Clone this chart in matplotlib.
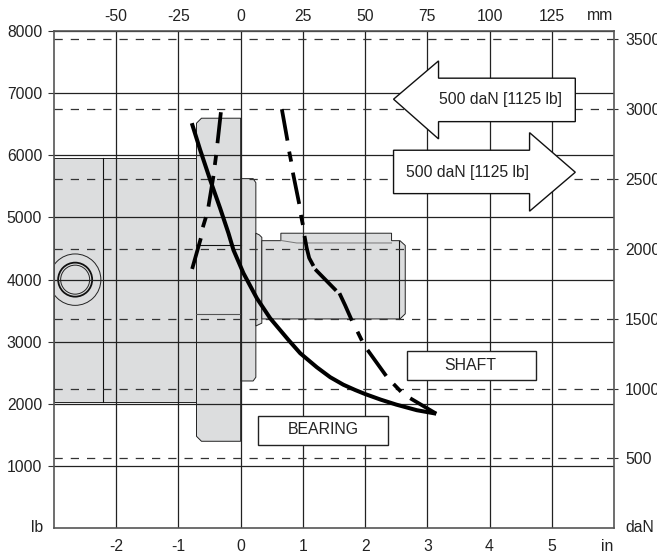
import matplotlib
matplotlib.use("Agg")
import matplotlib.pyplot as plt
from matplotlib.patches import Polygon, Rectangle, Ellipse
import numpy as np

plt.rcParams['font.family'] = ['Liberation Sans', 'DejaVu Sans']
plt.rcParams['axes.unicode_minus'] = False

# scales: 25 mm is drawn as 1 in, 1 daN = 2.248 lb
LB_PER_DAN = 2.248
MM_PER_IN = 25
nan = np.nan

lb_ticks = [1000, 2000, 3000, 4000, 5000, 6000, 7000, 8000]
in_ticks = [-2, -1, 0, 1, 2, 3, 4, 5]
mm_ticks = [-50, -25, 0, 25, 50, 75, 100, 125]
dan_ticks = np.array([500, 1000, 1500, 2000, 2500, 3000, 3500])

# load curves, x in inches and y in lb
bearing_x = [-0.785, -0.651, -0.490, -0.330, -0.196, -0.116, 0.045, 0.260, 0.474, 0.768,
             0.957, 1.225, 1.44, 1.65, 1.84, 2.0, 2.25, 2.5, 2.83, 3.143]
bearing_y = [6517, 6087, 5604, 5149, 4747, 4478, 4103, 3701, 3379, 3030,
             2816, 2590, 2430, 2310, 2225, 2160, 2070, 1990, 1900, 1844]

# the dashed curves have a nan at each gap, the dashes are not quite regular
shaft_x = [0.662, 0.752, nan, 0.780, 0.812, nan, 0.839, 0.941, nan, 0.968, 1.000, nan,
           1.026, 1.061, 1.101, 1.170, nan, 1.198, 1.535, nan, 1.588, 1.680, 1.788, nan,
           1.878, 1.949, nan, 2.039, 2.339, nan, 2.457, 2.576, nan, 2.725, 3.143]
shaft_y = [6742, 6237, nan, 6060, 5899, nan, 5722, 5218, nan, 5041, 4880, nan,
           4703, 4510, 4349, 4220, nan, 4167, 3823, nan, 3781, 3585, 3340, nan,
           3163, 3018, nan, 2869, 2451, nan, 2322, 2198, nan, 2092, 1844]
shaft2_x = [-0.318, -0.373, nan, -0.394, -0.415, nan, -0.437, -0.518, nan, -0.559, -0.608, nan, -0.640, -0.780]
shaft2_y = [6693, 6195, nan, 6006, 5845, nan, 5669, 5175, nan, 5004, 4843, nan, 4666, 4172]

# motor outline
body_x = [-3.0, -0.71, -0.71, -3.0]
body_y = [2037, 2037, 5953, 5953]
flange_x = [-0.71, -0.63, 0.0, 0.0, -0.63, -0.71]
flange_y = [1480, 1400, 1400, 6597, 6597, 6517]
cover_x = [0.0, 0.20, 0.244, 0.244, 0.20, 0.0]
cover_y = [2370, 2370, 2430, 5560, 5625, 5625]
collar_x = [0.244, 0.34, 0.34, 0.30, 0.244]
collar_y = [3255, 3300, 4680, 4720, 4747]
housing_x = [0.34, 2.56, 2.645, 2.645, 2.56, 2.425, 2.425, 0.646, 0.646, 0.34]
housing_y = [3368, 3368, 3450, 4550, 4627, 4627, 4747, 4747, 4627, 4627]

arrow_left_x = [2.457, 3.18, 3.18, 5.378, 5.378, 3.18, 3.18]
arrow_left_y = [6903, 7519, 7241, 7241, 6542, 6542, 6264]
arrow_right_x = [2.457, 4.643, 4.643, 5.378, 4.643, 4.643, 2.457]
arrow_right_y = [6082, 6082, 6365, 5728, 5101, 5384, 5384]

fig = plt.figure(figsize=(6.57, 5.56), dpi=100)
ax = fig.add_axes([54 / 657, 27.7 / 556, 560 / 657, 497.3 / 556])
ax.set_xlim(-3, 6)
ax.set_ylim(0, 8000)

for px, py in [(body_x, body_y), (flange_x, flange_y), (cover_x, cover_y), (collar_x, collar_y), (housing_x, housing_y)]:
    ax.add_patch(Polygon(np.column_stack([px, py]), fc="#dcddde", ec="#222222", lw=0.7, zorder=1))

# inner lines of the motor
ax.plot([-2.205, -2.205], [2037, 5953], color="#111111", lw=0.8, zorder=1.2)
ax.plot([-0.71, 0], [4553, 4553], color="#111111", lw=0.8, zorder=1.2)
ax.plot([-0.71, 0], [3443, 3443], color="#555555", lw=0.8, zorder=1.2)
ax.plot([2.537, 2.537], [3368, 4627], color="#111111", lw=0.8, zorder=1.2)
ax.plot([0.646, 0.9, 2.425], [4630, 4590, 4590], color="#777777", lw=0.7, zorder=1.2)

# conduit circle, the big one is clipped by the frame
ax.add_patch(Ellipse((-2.66, 4000), 2 * 25.7 / 62.2, 2 * 25.7 / 0.06215, fc="none", ec="#222222", lw=0.7, zorder=1.3))
ax.add_patch(Ellipse((-2.66, 4000), 2 * 17 / 62.2, 2 * 17 / 0.06215, fc="none", ec="#111111", lw=1.3, zorder=1.3))
ax.add_patch(Ellipse((-2.66, 4000), 2 * 14.5 / 62.2, 2 * 14.5 / 0.06215, fc="none", ec="#222222", lw=0.7, zorder=1.3))

ax.set_xticks(in_ticks)
ax.set_yticks(lb_ticks)
ax.grid(True, color="#222222", lw=0.9)
ax.set_axisbelow("line")
ax.hlines(dan_ticks * LB_PER_DAN, -3, 6, color="#333333", lw=0.9, linestyles=(0, (6.6, 6.4)), zorder=1.6)

ax.plot(bearing_x, bearing_y, color="black", lw=2.9, zorder=3, solid_capstyle="butt")
ax.plot(shaft_x, shaft_y, color="black", lw=2.7, zorder=3, solid_capstyle="butt")
ax.plot(shaft2_x, shaft2_y, color="black", lw=2.7, zorder=3, solid_capstyle="butt")

ax.add_patch(Polygon(np.column_stack([arrow_left_x, arrow_left_y]), fc="white", ec="#111111", lw=1.0, zorder=4))
ax.add_patch(Polygon(np.column_stack([arrow_right_x, arrow_right_y]), fc="white", ec="#111111", lw=1.0, zorder=4))
ax.text(4.177, 6903, "500 daN [1125 lb]", ha="center", va="center", fontsize=11.3, color="#222222", zorder=5)
ax.text(3.64, 5728, "500 daN [1125 lb]", ha="center", va="center", fontsize=11.3, color="#222222", zorder=5)

ax.add_patch(Rectangle((0.286, 1345), 2.074, 467, fc="white", ec="#222222", lw=1.0, zorder=4))
ax.add_patch(Rectangle((2.672, 2386), 2.068, 467, fc="white", ec="#222222", lw=1.0, zorder=4))
ax.text(1.326, 1590, "BEARING", ha="center", va="center", fontsize=11.4, color="#222222", zorder=5)
ax.text(3.69, 2612, "SHAFT", ha="center", va="center", fontsize=11.4, color="#222222", zorder=5)

for s in ax.spines.values():
    s.set_color("#555555")
    s.set_linewidth(1.2)

ax.tick_params(axis="x", length=0, pad=8, labelsize=11.3, labelcolor="#222222")
ax.tick_params(axis="y", length=4, width=0.8, pad=4.5, labelsize=11.3, labelcolor="#222222", color="#333333")

top = ax.secondary_xaxis("top", functions=(lambda v: v * MM_PER_IN, lambda v: v / MM_PER_IN))
top.set_xticks(mm_ticks)
top.tick_params(length=0, pad=5, labelsize=11.3, labelcolor="#222222")
top.spines["top"].set_visible(False)

right = ax.secondary_yaxis("right", functions=(lambda v: v / LB_PER_DAN, lambda v: v * LB_PER_DAN))
right.set_yticks(dan_ticks)
right.tick_params(length=3, width=0.8, pad=5, labelsize=11.3, labelcolor="#222222", color="#333333")
right.spines["right"].set_visible(False)

# unit labels at the axis ends
ax.text(-3.175, 20, "lb", ha="right", va="center", fontsize=11.3, color="#222222", clip_on=False)
ax.text(6.18, 20, "daN", ha="left", va="center", fontsize=11.3, color="#222222", clip_on=False)
ax.text(5.89, -285, "in", ha="center", va="center", fontsize=11.3, color="#222222", clip_on=False)
ax.text(5.78, 8243, "mm", ha="center", va="center", fontsize=11.3, color="#222222", clip_on=False)

fig.savefig("out.png", dpi=100)
